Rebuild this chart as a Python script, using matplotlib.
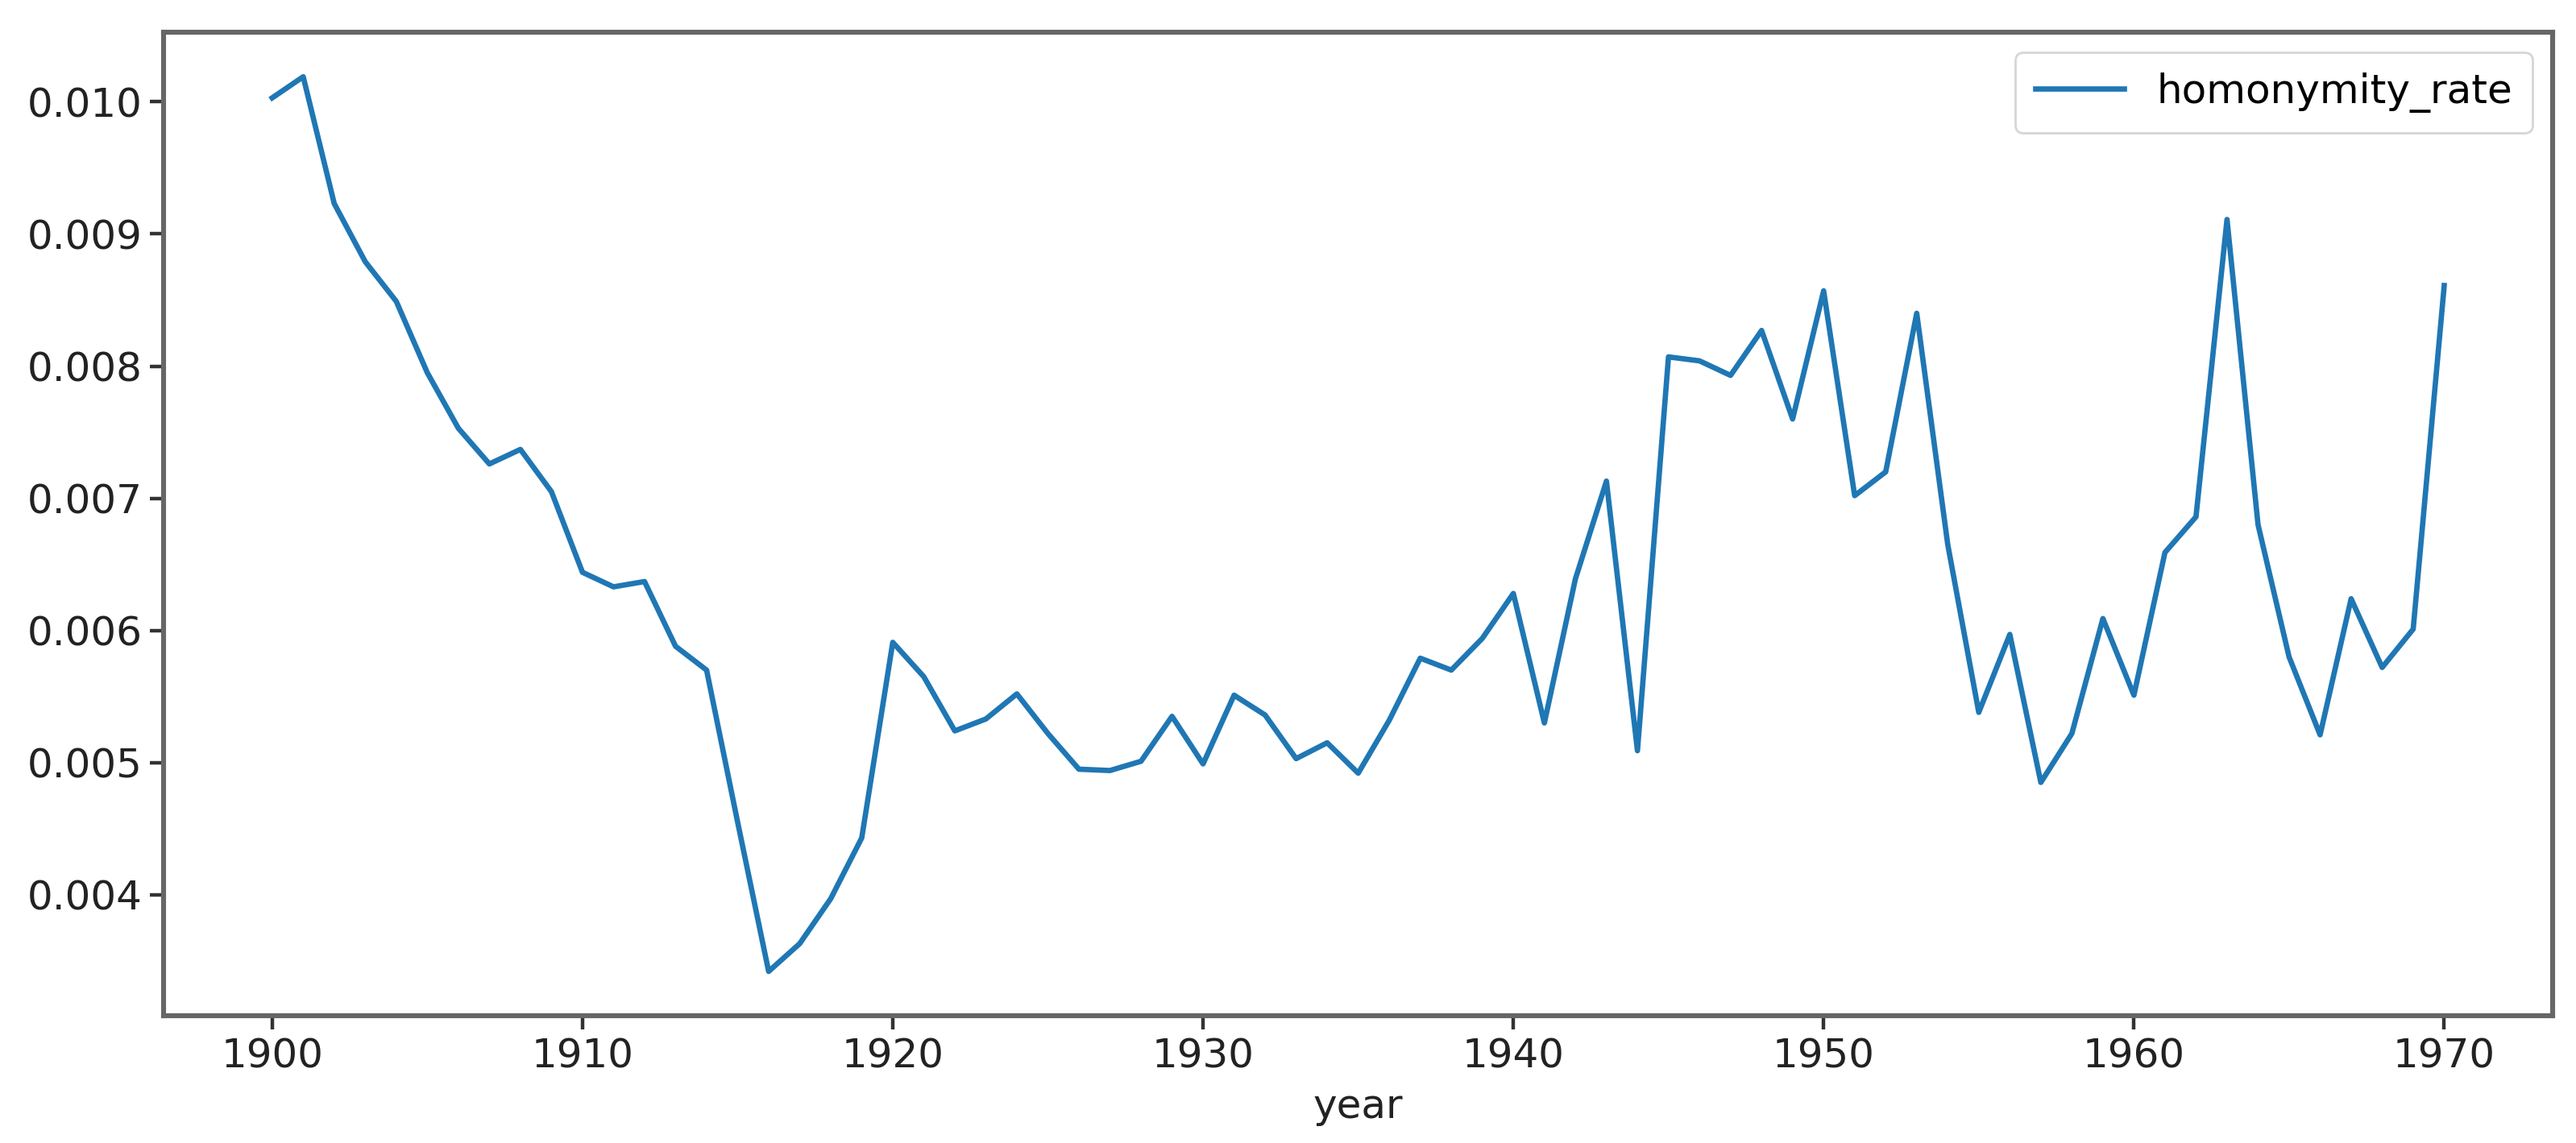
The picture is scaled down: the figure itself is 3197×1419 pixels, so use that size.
import numpy as np
import matplotlib
matplotlib.use("Agg")
import matplotlib.pyplot as plt

years = list(range(1900, 1971))
homonymity_rate = [
    0.01003, 0.01019, 0.00923, 0.00879, 0.00849, 0.00795, 0.00753, 0.00726, 0.00737, 0.00705,
    0.00644, 0.00633, 0.00637, 0.00588, 0.00570, 0.00455, 0.00342, 0.00363, 0.00397, 0.00443,
    0.00591, 0.00565, 0.00524, 0.00533, 0.00552, 0.00522, 0.00495, 0.00494, 0.00501, 0.00535,
    0.00499, 0.00551, 0.00536, 0.00503, 0.00515, 0.00492, 0.00532, 0.00579, 0.00570, 0.00594,
    0.00628, 0.00530, 0.00639, 0.00713, 0.00509, 0.00807, 0.00804, 0.00793, 0.00827, 0.00760,
    0.00857, 0.00702, 0.00720, 0.00840, 0.00665, 0.00538, 0.00597, 0.00485, 0.00522, 0.00609,
    0.00551, 0.00659, 0.00686, 0.00911, 0.00680, 0.00580, 0.00521, 0.00624, 0.00572, 0.00601,
    0.00861,
]

fig, ax = plt.subplots(figsize=(15.985, 7.095), dpi=200)
fig.subplots_adjust(left=0.0635, right=0.991, top=0.972, bottom=0.111)

ax.plot(years, homonymity_rate, color="#1f77b4", linewidth=2.4, label="homonymity_rate")

ax.set_xticks(range(1900, 1971, 10))
ax.set_yticks([0.004, 0.005, 0.006, 0.007, 0.008, 0.009, 0.010])
ax.yaxis.set_major_formatter(matplotlib.ticker.FormatStrFormatter("%.3f"))
ax.tick_params(labelsize=18, length=6, width=1.6, colors="#333333", labelcolor="#222222")
ax.set_xlabel("year", fontsize=18, color="#222222", labelpad=5)

for s in ax.spines.values():
    s.set_linewidth(2.2)
    s.set_color("#666666")

ax.legend(loc="upper right", fontsize=18, handlelength=2.2, borderpad=0.5)

fig.savefig("out.png", dpi=200)
